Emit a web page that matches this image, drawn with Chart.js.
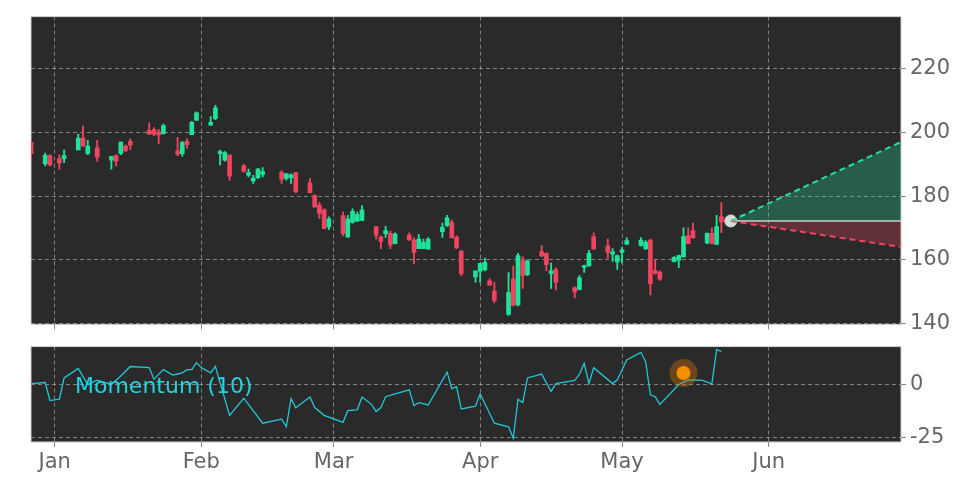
<!DOCTYPE html>
<html>
<head>
<meta charset="utf-8">
<script src="https://cdn.jsdelivr.net/npm/chart.js@4"></script>
<style>
  body { margin: 0; background: #fff; }
  #wrap { position: relative; width: 972px; height: 486px; }
  canvas { position: absolute; left: 0; }
  #price { top: 0; }
  #mom { top: 330px; }
  #momLabel { position: absolute; left: 75px; top: 373px; font: 22px "DejaVu Sans"; color: #22d3e0; }
</style>
</head>
<body>
<div id="wrap">
  <canvas id="price" width="972" height="341" style="width:972px;height:341px"></canvas>
  <canvas id="mom" width="972" height="156" style="width:972px;height:156px"></canvas>
  <div id="momLabel">Momentum (10)</div>
</div>
<script>
// day number counted from 1 Jan
const days   = [-5,-2,-1,1,2,5,6,7,9,12,13,14,15,16,20,21,22,23,26,27,28,29,30,33,34,35,36,37,40,41,42,43,44,48,49,50,51,54,55,56,57,58,61,62,63,64,65,68,69,70,71,72,75,76,77,78,79,82,83,84,85,86,89,90,91,92,93,96,97,98,99,100,103,104,105,106,110,111,112,113,114,117,118,119,120,121,124,125,126,127,128,131,132,133,134,135,138,139,140,141];
const opens  = [196.7,190.4,192.5,191.5,192,194.7,198,193.6,195,191.5,192.5,193.6,195.5,197,200.5,200.6,200,199.8,194,193.5,197,199.5,204,202.5,204.5,193.5,191.5,192.7,189.3,186.8,185,186,187,187.3,185.8,186,187.2,184,180,177,175.5,170.5,173.7,167.4,171.9,172.3,172.6,170.2,166.9,168.4,168.1,165.3,167.6,166,163.7,163.7,163.5,169,170.9,171.6,166.9,162.5,154.8,156.6,157,153.2,150,143,153.7,146,159.5,155.5,162.4,161.8,155.8,156.7,151.1,150.9,157.8,158.3,167.1,164.2,162,159.5,162.5,165.1,164.6,163.7,166,156.4,155.9,159.6,160.1,161.1,167.4,169,165.5,168.1,165,173.4];
const highs  = [197,193.5,193,193,194.5,199.5,202,197.5,197.5,192.5,193,197,196,198,203,201.5,201,202.6,198.5,197.2,198,203.5,206.5,205,208.5,194.5,194,193,190,188.5,186.5,188.7,189,188,187.2,187,187.5,185.5,180.5,178,176,173.5,175,174,176,175,177,170.5,167.5,170.5,169,168.5,168.5,167,168,166.5,167,171.5,174,172.5,167.5,163,155.5,157.5,160.5,154,153,156,158,162,161,160,164.5,162.2,159,157.5,151.5,155,158.3,163,168.5,166.5,163.5,161.5,164,167,167,166,166.5,160,156.5,161,161.5,170,170,171.5,168.5,170,174,178];
const lows   = [191.5,189.5,189.5,188.5,190.5,194.5,195.5,193,191,188.5,189.5,193,194,194.7,199.5,199,196.5,199.5,192.7,192.5,195,199.3,204,202.3,204,189.8,191,185,187.5,186,184,185.5,186,184,185,184,181,181,176.5,173,170,169.5,167.5,167,171.5,172,172.3,166.5,163.5,167,163.5,165,166,158.7,163.5,163.5,163.3,167,170.5,167,163.5,155,153,153,156.5,152,146.5,142.5,145.5,145.5,151,155,161,156.5,151,150.5,148,150.5,156,158,163.3,160.5,159.5,157,159,164.8,164.3,163.2,149,155.5,153.5,159.3,157.5,160.8,165,166.8,165,165,164.8,168.5];
const closes = [193.5,192.6,190,190.6,192.5,198,196,195.5,192.4,192.2,191.2,196.8,194.5,196.2,199.7,199.7,199.4,202,193.4,196.6,196.4,203,206,203,207.5,193.8,193.5,186.5,188,187.2,185.5,188.3,187.5,185.5,186.8,186.5,181.6,181.3,176.8,174.8,170,172.7,168.4,172.6,175,174,175.5,167.9,166,169,164.8,167.9,166.5,162.5,166.3,165.3,166.3,170,173,167.1,163.9,155.8,156.3,158.7,159,152.2,147.4,149.5,145.9,161.1,155.3,159.5,161.4,158.7,156.3,153.2,150.1,154.1,158,161.8,163.5,162.5,162.3,161.1,162.9,165.8,166,165.3,152.7,155.9,154.1,160.6,161.1,167.1,165.3,167.1,168.1,165.3,170.2,172.1];

const lastDay = 143, lastPrice = 172.2, endDay = 179;
const coneUpper = 197, coneLower = 164;

const momDays   = [-5,-2,-1,1,2,5,7,9,12,14,16,20,21,23,25,27,28,29,30,31,33,34,37,40,44,48,49,50,51,54,55,57,61,62,64,65,67,68,69,70,75,76,77,79,83,84,85,86,89,90,93,96,97,98,99,100,103,105,106,110,111,112,113,114,118,119,121,124,125,126,127,128,132,134,137,139,140,141];
const momValues = [0.4,0.9,-7.6,-6.9,3.1,7.6,0,2,0,4,8.5,8,2.5,7,4.5,5.5,7,7,10.3,8,5.5,8.5,-14.6,-6.5,-18.3,-16.4,-20,-6.7,-11,-5.9,-10.9,-14.6,-17.9,-12.4,-12,-5.9,-9.4,-12.8,-10.9,-5.8,-2.5,-10,-8.6,-9.7,5.8,-2,-1,-11.6,-10.3,-4.4,-18.3,-20,-25.4,-7,-8.6,3.1,4.9,-3.3,0.4,1.9,4.9,10,0.4,7.9,0.4,2.2,11.6,15.2,10.7,-4.9,-5.8,-9.4,0,2.2,1.9,0.3,16.5,15.6];
const momMarker = { x: 133, y: 5.4 };

const monthDays  = [0, 31, 59, 90, 120, 151];
const monthNames = ['Jan', 'Feb', 'Mar', 'Apr', 'May', 'Jun'];

const GREEN = '#1fe39a', RED = '#f04460';
const gridColor = 'rgba(200,200,200,0.55)';
const tickFont = { family: 'DejaVu Sans', size: 21 };

const panelBg = {
  id: 'panelBg',
  beforeDraw(chart) {
    const { ctx, chartArea: a } = chart;
    ctx.save();
    ctx.fillStyle = '#2a2a2a';
    ctx.fillRect(a.left, a.top, a.right - a.left, a.bottom - a.top);
    ctx.strokeStyle = '#d0d0d0';
    ctx.lineWidth = 1;
    ctx.strokeRect(a.left, a.top, a.right - a.left, a.bottom - a.top);
    ctx.restore();
  }
};

function xAxis(showLabels, h) {
  return {
    type: 'linear', min: -5, max: endDay, offset: false,
    afterBuildTicks: s => { s.ticks = monthDays.map(v => ({ value: v })); },
    afterFit: s => { s.height = h; },
    grid: { color: gridColor, tickColor: '#888', tickLength: 5, offset: false },
    border: { display: false, dash: [4, 3] },
    ticks: {
      display: showLabels, color: '#666', font: tickFont, maxRotation: 0,
      callback: v => monthNames[monthDays.indexOf(v)]
    }
  };
}
function yAxis(min, max, step) {
  return {
    position: 'right', min: min, max: max,
    afterFit: s => { s.width = 71; },
    afterBuildTicks: s => {
      const t = [];
      for (let v = Math.ceil(min / step) * step; v <= max; v += step) t.push({ value: v });
      s.ticks = t;
    },
    grid: { color: gridColor, tickColor: '#888', tickLength: 5 },
    border: { display: false, dash: [4, 3] },
    ticks: { color: '#666', font: tickFont, padding: 4 }
  };
}

const candleColors = opens.map((o, i) => closes[i] >= o ? GREEN : RED);

new Chart(document.getElementById('price'), {
  type: 'bar',
  data: {
    datasets: [
      { type: 'line', data: [{ x: lastDay, y: lastPrice }, { x: endDay, y: coneUpper }], borderColor: GREEN, borderDash: [6, 4], borderWidth: 2, pointRadius: 0, fill: 2, backgroundColor: 'rgba(31,227,154,0.28)' },
      { type: 'line', data: [{ x: lastDay, y: lastPrice }, { x: endDay, y: coneLower }], borderColor: RED, borderDash: [6, 4], borderWidth: 2, pointRadius: 0, fill: 2, backgroundColor: 'rgba(240,68,96,0.28)' },
      { type: 'line', data: [{ x: lastDay, y: lastPrice }, { x: endDay, y: lastPrice }], borderColor: '#e8e8e8', borderWidth: 1.5, pointRadius: 0, fill: false },
      { type: 'scatter', data: [{ x: lastDay, y: lastPrice }], pointRadius: 6, pointBackgroundColor: '#d8d8d8', pointBorderColor: '#d8d8d8' },
      { data: days.map((d, i) => ({ x: d, y: [lows[i], highs[i]] })), backgroundColor: candleColors, barThickness: 1.2, grouped: false },
      { data: days.map((d, i) => ({ x: d, y: [Math.min(opens[i], closes[i]) - 0.2, Math.max(opens[i], closes[i]) + 0.2] })), backgroundColor: candleColors, barThickness: 4, grouped: false }
    ]
  },
  options: {
    responsive: false, animation: false,
    layout: { padding: { top: 16, left: 31, right: 0, bottom: 0 } },
    plugins: { legend: { display: false }, tooltip: { enabled: false } },
    scales: { x: xAxis(false, 7), y: yAxis(139.7, 236.4, 20) }
  },
  plugins: [panelBg]
});

new Chart(document.getElementById('mom'), {
  type: 'line',
  data: {
    datasets: [
      { type: 'scatter', data: [momMarker], pointRadius: 14, pointBackgroundColor: 'rgba(230,120,0,0.35)', pointBorderWidth: 0 },
      { type: 'scatter', data: [momMarker], pointRadius: 7, pointBackgroundColor: '#ff9a00', pointBorderWidth: 0 },
      { data: momDays.map((d, i) => ({ x: d, y: momValues[i] })), borderColor: '#22c8d8', borderWidth: 1.3, pointRadius: 0, tension: 0 }
    ]
  },
  options: {
    responsive: false, animation: false,
    layout: { padding: { top: 2, left: 31, right: 0, bottom: 0 } },
    plugins: { legend: { display: false }, tooltip: { enabled: false } },
    scales: { x: xAxis(true, 44), y: yAxis(-27.2, 17.9, 25) }
  },
  plugins: [panelBg]
});
</script>
</body>
</html>
